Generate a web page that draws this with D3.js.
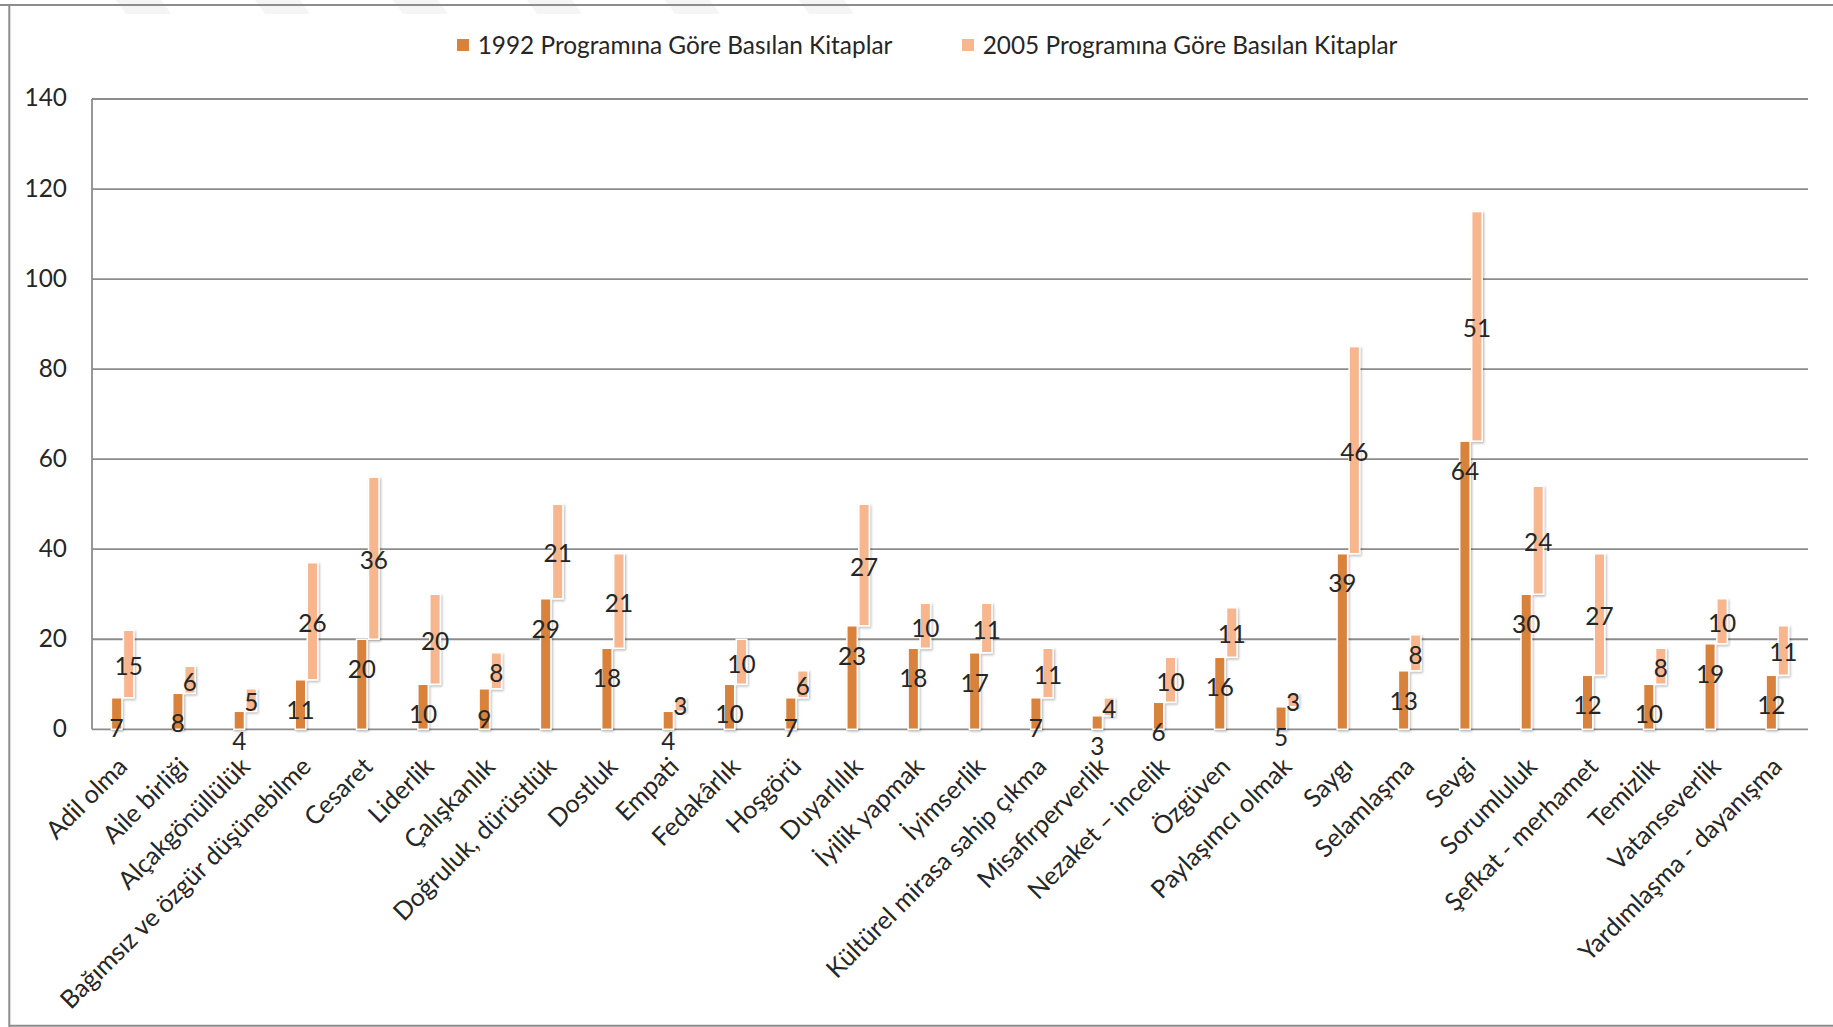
<!DOCTYPE html>
<html><head><meta charset="utf-8">
<script src="https://cdn.jsdelivr.net/npm/d3@7"></script>
<style>html,body{margin:0;padding:0;background:#fff;} svg{display:block;}</style>
</head><body>
<svg id="chart" width="1833" height="1027"></svg>
<script>
// ---------- DATA ----------
const categories = [
  "Adil olma","Aile birliği","Alçakgönüllülük","Bağımsız ve özgür düşünebilme","Cesaret",
  "Liderlik","Çalışkanlık","Doğruluk, dürüstlük","Dostluk","Empati","Fedakârlık","Hoşgörü",
  "Duyarlılık","İyilik yapmak","İyimserlik","Kültürel mirasa sahip çıkma","Misafirperverlik",
  "Nezaket – incelik","Özgüven","Paylaşımcı olmak","Saygı","Selamlaşma","Sevgi","Sorumluluk",
  "Şefkat - merhamet","Temizlik","Vatanseverlik","Yardımlaşma - dayanışma"
];
const values1992 = [7,8,4,11,20,10,9,29,18,4,10,7,23,18,17,7,3,6,16,5,39,13,64,30,12,10,19,12];
const values2005 = [15,6,5,26,36,20,8,21,21,3,10,6,27,10,11,11,4,10,11,3,46,8,51,24,27,8,10,11];
const seriesNames = ["1992 Programına Göre Basılan Kitaplar","2005 Programına Göre Basılan Kitaplar"];
const seriesColors = ["#D9823B","#F8B68F"];
const yTicks = [0,20,40,60,80,100,120,140];

// ---------- LAYOUT ----------
const FONT = "Lato, 'Open Sans', sans-serif";
const TEXT = "#262626";
const GRID = "#8c8c8c";
const svg = d3.select("#chart");

// fit font size so the legend text has the reference width
const probe = svg.append("text").attr("font-family", FONT).attr("font-size", 100).text(seriesNames[0]);
const fs = 100 * 415 / probe.node().getComputedTextLength();
probe.remove();
const fsCat = fs * 1.03;

const x = d3.scaleBand().domain(categories).range([92, 1808]).padding(0);
const y = d3.scaleLinear().domain([0, 140]).range([729.3, 99]);
const cx = c => x(c) + x.bandwidth() / 2;
const barW = 10.5;

const defs = svg.append("defs");
const f = defs.append("filter").attr("id","sh").attr("x","-50%").attr("y","-20%").attr("width","200%").attr("height","140%");
f.append("feDropShadow").attr("dx",1.2).attr("dy",1.5).attr("stdDeviation",1.1).attr("flood-color","#000").attr("flood-opacity",0.28);

// faint decoration at top
const deco = [116,255,393,527,665,799];
svg.append("g").selectAll("polygon").data(deco).join("polygon")
  .attr("points", d => `${d},0 ${d+45},0 ${d+55},14 ${d+10},14`)
  .attr("fill", "#f5f5f5");

// frame
svg.append("line").attr("x1",0).attr("x2",1833).attr("y1",5).attr("y2",5).attr("stroke",GRID).attr("stroke-width",2);
svg.append("line").attr("x1",9.3).attr("x2",9.3).attr("y1",5).attr("y2",1027).attr("stroke",GRID).attr("stroke-width",2);
svg.append("line").attr("x1",9.3).attr("x2",1833).attr("y1",1025.7).attr("y2",1025.7).attr("stroke",GRID).attr("stroke-width",2);

// gridlines
svg.append("g").selectAll("line").data(yTicks).join("line")
  .attr("x1", 92).attr("x2", 1808)
  .attr("y1", d => y(d)).attr("y2", d => y(d))
  .attr("stroke", GRID).attr("stroke-width", 1.8);
// y axis line
svg.append("line").attr("x1",92).attr("x2",92).attr("y1",y(140)).attr("y2",y(0)).attr("stroke",GRID).attr("stroke-width",1.8);

// y tick labels
svg.append("g").selectAll("text").data(yTicks).join("text")
  .attr("x", 67).attr("y", d => y(d) - 1.3).attr("dy","0.36em")
  .attr("text-anchor","end").attr("font-family",FONT).attr("font-size",fs).attr("fill",TEXT)
  .text(d => d);

// bars
const rows = categories.map((c,i) => ({c, a: values1992[i], b: values2005[i]}));
const gb = svg.append("g").attr("filter","url(#sh)");
gb.selectAll("rect.a").data(rows).join("rect").attr("class","a")
  .attr("x", d => cx(d.c) - 11.25).attr("width", barW)
  .attr("y", d => y(d.a)).attr("height", d => y(0) - y(d.a))
  .attr("fill", seriesColors[0]).attr("stroke","#fff").attr("stroke-width",1.5);
gb.selectAll("rect.b").data(rows).join("rect").attr("class","b")
  .attr("x", d => cx(d.c) + 0.75).attr("width", barW)
  .attr("y", d => y(d.a + d.b)).attr("height", d => y(d.a) - y(d.a + d.b))
  .attr("fill", seriesColors[1]).attr("stroke","#fff").attr("stroke-width",1.5);

// data labels
svg.append("g").selectAll("text").data(rows).join("text")
  .attr("x", d => cx(d.c) - 6).attr("y", d => y(d.a) + 30).attr("dy","0.36em")
  .attr("text-anchor","middle").attr("font-family",FONT).attr("font-size",fs).attr("fill",TEXT)
  .text(d => d.a);
svg.append("g").selectAll("text").data(rows).join("text")
  .attr("x", d => cx(d.c) + 6).attr("y", d => y(d.a + d.b / 2) + 2).attr("dy","0.36em")
  .attr("text-anchor","middle").attr("font-family",FONT).attr("font-size",fs).attr("fill",TEXT)
  .text(d => d.b);

// category labels
svg.append("g").selectAll("text").data(categories).join("text")
  .attr("transform", d => `translate(${cx(d)},762) rotate(-45)`)
  .attr("dy","0.35em").attr("text-anchor","end")
  .attr("font-family",FONT).attr("font-size",fsCat).attr("fill",TEXT)
  .text(d => d);

// legend
const legX = [457, 962];
const lg = svg.append("g").selectAll("g").data(seriesNames).join("g")
  .attr("transform", (d,i) => `translate(${legX[i]},45)`);
lg.append("rect").attr("x",0).attr("y",-6).attr("width",12).attr("height",12).attr("fill",(d,i)=>seriesColors[i]);
lg.append("text").attr("x",20.7).attr("y",0).attr("dy","0.36em")
  .attr("font-family",FONT).attr("font-size",fs).attr("fill",TEXT).text(d => d);
</script>
</body></html>
